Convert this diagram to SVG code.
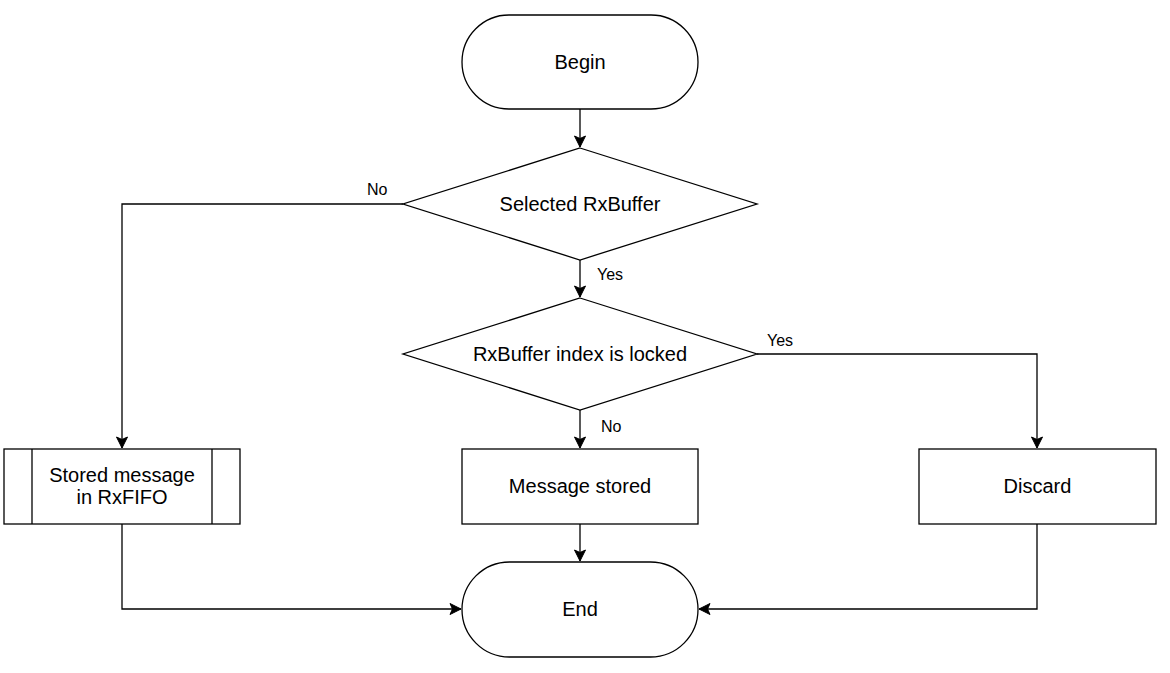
<svg xmlns="http://www.w3.org/2000/svg" width="1170" height="673" viewBox="0 0 1170 673">
<style>
.shape{fill:#fff;stroke:#000;stroke-width:1.3}
.edge{fill:none;stroke:#000;stroke-width:1.3}
.t{font-family:"Liberation Sans",Arial,sans-serif;font-size:20px;fill:#000;text-anchor:middle}
.lbl{font-family:"Liberation Sans",Arial,sans-serif;font-size:16px;fill:#000}
</style>
<defs>
<marker id="arr" markerUnits="userSpaceOnUse" markerWidth="14" markerHeight="14" viewBox="-12 -7 14 14" refX="0" refY="0" orient="auto">
<path d="M0,0 L-11,-5.5 L-8.5,0 L-11,5.5 Z" fill="#000" stroke="#000" stroke-width="1"/>
</marker>
</defs>
<rect width="1170" height="673" fill="#fff"/>
<g id="connectors">
<path class="edge" d="M580,109 L580,147" marker-end="url(#arr)"/>
<path class="edge" d="M403,204 L122,204 L122,448" marker-end="url(#arr)"/>
<path class="edge" d="M580,260 L580,297" marker-end="url(#arr)"/>
<path class="edge" d="M757,354 L1037,354 L1037,448" marker-end="url(#arr)"/>
<path class="edge" d="M580,410 L580,448" marker-end="url(#arr)"/>
<path class="edge" d="M122,524 L122,609 L461,609" marker-end="url(#arr)"/>
<path class="edge" d="M580,524 L580,561" marker-end="url(#arr)"/>
<path class="edge" d="M1037,524 L1037,609 L699,609" marker-end="url(#arr)"/>
<text class="lbl" x="367" y="195">No</text>
<text class="lbl" x="597" y="280">Yes</text>
<text class="lbl" x="767" y="346">Yes</text>
<text class="lbl" x="601" y="432">No</text>
</g>
<g id="begin">
<rect class="shape" x="462" y="15" width="236" height="94" rx="47" ry="47"/>
<text class="t" x="580" y="69">Begin</text>
</g>
<g id="selected">
<polygon class="shape" points="580,148 757,204 580,260 403,204"/>
<text class="t" x="580" y="211">Selected RxBuffer</text>
</g>
<g id="locked">
<polygon class="shape" points="580,298 757,354 580,410 403,354"/>
<text class="t" x="580" y="361">RxBuffer index is locked</text>
</g>
<g id="fifo">
<rect class="shape" x="4" y="449" width="236" height="75"/>
<line class="edge" x1="32" y1="449" x2="32" y2="524"/>
<line class="edge" x1="212" y1="449" x2="212" y2="524"/>
<text class="t" x="122" y="482">Stored message</text>
<text class="t" x="122" y="504">in RxFIFO</text>
</g>
<g id="stored">
<rect class="shape" x="462" y="449" width="236" height="75"/>
<text class="t" x="580" y="493">Message stored</text>
</g>
<g id="discard">
<rect class="shape" x="919" y="449" width="237" height="75"/>
<text class="t" x="1037.5" y="493">Discard</text>
</g>
<g id="end">
<rect class="shape" x="462" y="562" width="236" height="95" rx="47.5" ry="47.5"/>
<text class="t" x="580" y="616">End</text>
</g>
</svg>
